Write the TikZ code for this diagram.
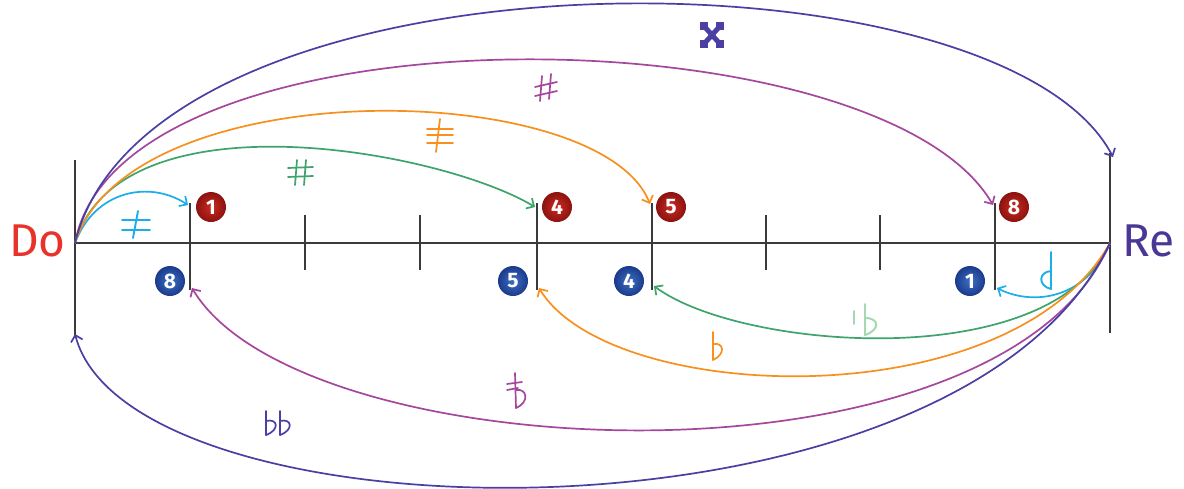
\documentclass[tikz,border=0pt]{standalone}
\usepackage{fontspec}
\setmainfont{Fira Sans}
\usetikzlibrary{arrows.meta}
\definecolor{cDo}{HTML}{E8322A}
\definecolor{cRe}{HTML}{4A3796}
\definecolor{cCy}{HTML}{1BAEE8}
\definecolor{cGr}{HTML}{3DA46C}
\definecolor{cGrL}{HTML}{A6D8B2}
\definecolor{cOr}{HTML}{F7901E}
\definecolor{cMa}{HTML}{A5479C}
\definecolor{cIn}{HTML}{4A3FA2}
\definecolor{cAx}{HTML}{3A3A3A}
\definecolor{rIn}{HTML}{CC2A20}
\definecolor{rOut}{HTML}{8C1210}
\definecolor{bIn}{HTML}{3D70C4}
\definecolor{bOut}{HTML}{1B3A8C}
\begin{document}
\begin{tikzpicture}[x=1pt,y=-1pt,
  axis/.style={cAx,line width=1.2pt},
  arc/.style={line width=1.7pt,-{Straight Barb[length=6pt,width=12pt,line width=1.7pt]}},
  acc/.style={line width=1.9pt,line cap=round},
  redball/.style={circle,minimum size=30pt,inner sep=0pt,inner color=rIn,outer color=rOut,text=white,font=\fontsize{21}{21}\selectfont\bfseries},
  blueball/.style={circle,minimum size=30pt,inner sep=0pt,inner color=bIn,outer color=bOut,text=white,font=\fontsize{21}{21}\selectfont\bfseries},
  lbl/.style={font=\fontsize{46}{46}\selectfont,inner sep=0pt}]
\useasboundingbox (0,0) rectangle (1184,488);
\fill[white] (0,0) rectangle (1184,488);
% axis
\coordinate (o) at (75,243);
\coordinate (e) at (1110,243);
\draw[axis] (o) -- (e);
\draw[axis] (75,160) -- (75,336);
\draw[axis] (1110,153) -- (1110,333);
\foreach \x in {190,537,652,995} \draw[axis] (\x,203) -- (\x,290);
\foreach \x in {305,420,766,880} \draw[axis] (\x,215) -- (\x,270);
% endpoints
\coordinate (u1) at (188,205);
\coordinate (u4) at (535,207);
\coordinate (u5) at (650,204);
\coordinate (u8) at (993,205);
\coordinate (ue) at (1113,157);
\coordinate (d1) at (997,288);
\coordinate (d4) at (654,286);
\coordinate (d5) at (539,288);
\coordinate (d8) at (192,288);
\coordinate (dd) at (75,334);
% labels
\node[lbl,text=cDo,anchor=east] (do) at (66,241) {Do};
\node[lbl,text=cRe,anchor=west] (re) at (1122,241) {Re};
% balls
\node[redball] (r1) at (211,207) {1};
\node[redball] (r4) at (557,207) {4};
\node[redball] (r5) at (671,207) {5};
\node[redball] (r8) at (1014,207) {8};
\node[blueball] (b8) at (170,281) {8};
\node[blueball] (b5) at (513,281) {5};
\node[blueball] (b4) at (629,281) {4};
\node[blueball] (b1) at (970,281) {1};
% upper arcs
\draw[arc,cCy] (o) .. controls (95,190) and (150,180) .. (u1);
\draw[arc,cGr] (o) .. controls (120,92) and (440,150) .. (u4);
\draw[arc,cOr] (o) .. controls (130,70) and (600,78) .. (u5);
\draw[arc,cMa] (o) .. controls (120,0) and (880,10) .. (u8);
\draw[arc,cIn] (o) .. controls (150,-60) and (1000,-60) .. (ue);
% lower arcs
\draw[arc,cCy] (e) .. controls (1085,302) and (1030,305) .. (d1);
\draw[arc,cGr] (e) .. controls (1050,375) and (740,350) .. (d4);
\draw[arc,cOr] (e) .. controls (1010,420) and (610,405) .. (d5);
\draw[arc,cMa] (e) .. controls (1000,500) and (300,470) .. (d8);
\draw[arc,cIn] (e) .. controls (960,560) and (130,545) .. (dd);
% accidentals (hand-drawn glyphs)
\begin{scope}[cCy,acc]
  \draw (138,211) -- (133,238);
  \draw (122,220) -- (150,220);
  \draw (122,230) -- (150,230);
\end{scope}
\begin{scope}[cGr,acc,line width=1.7pt]
  \draw (297,160) -- (295,185);
  \draw (306,160) -- (304,185);
  \draw (288,168) -- (313,167);
  \draw (288,177) -- (313,176);
\end{scope}
\begin{scope}[cOr,acc,line width=1.7pt]
  \draw (440,119) -- (436,152);
  \draw (427,129) -- (453,129);
  \draw (427,135) -- (453,135);
  \draw (427,143) -- (453,143);
\end{scope}
\begin{scope}[cMa,acc,line width=1.7pt]
  \draw (542,76) -- (540,101);
  \draw (551,74) -- (549,99);
  \draw (535,87) -- (557,82);
  \draw (535,96) -- (557,91);
\end{scope}
\begin{scope}[cIn]
  \fill (700,22) rectangle (708,30);
  \fill (716,22) rectangle (724,30);
  \fill (700,40) rectangle (708,48);
  \fill (716,40) rectangle (724,48);
  \draw[line width=5pt] (703,25) -- (721,45);
  \draw[line width=5pt] (721,25) -- (703,45);
\end{scope}
\begin{scope}[cCy,acc]
  \draw (1051,252) -- (1051,289);
  \draw (1051,289) .. controls (1038,286) and (1038,272) .. (1051,271);
\end{scope}
\begin{scope}[cGrL,acc,line width=2pt]
  \draw (865,304) -- (865,335);
  \draw (865,335) .. controls (880,330) and (880,318) .. (865,318);
  \draw (854,311) -- (854,324);
\end{scope}
\begin{scope}[cOr,acc,line width=1.7pt]
  \draw (713,332) -- (713,360);
  \draw (713,360) .. controls (726,354) and (724,342) .. (713,344);
\end{scope}
\begin{scope}[cMa,acc,line width=1.7pt]
  \draw (515,373) -- (516,408);
  \draw (516,408) .. controls (530,402) and (527,388) .. (516,390);
  \draw (507,384) -- (522,382);
  \draw (507,390) -- (518,388);
\end{scope}
\begin{scope}[cIn,acc,line width=1.7pt]
  \draw (266,411) -- (266,435);
  \draw (266,435) .. controls (280,430) and (278,418) .. (266,421);
  \draw (280,411) -- (280,435);
  \draw (280,435) .. controls (294,430) and (292,418) .. (280,421);
\end{scope}
\end{tikzpicture}
\end{document}
